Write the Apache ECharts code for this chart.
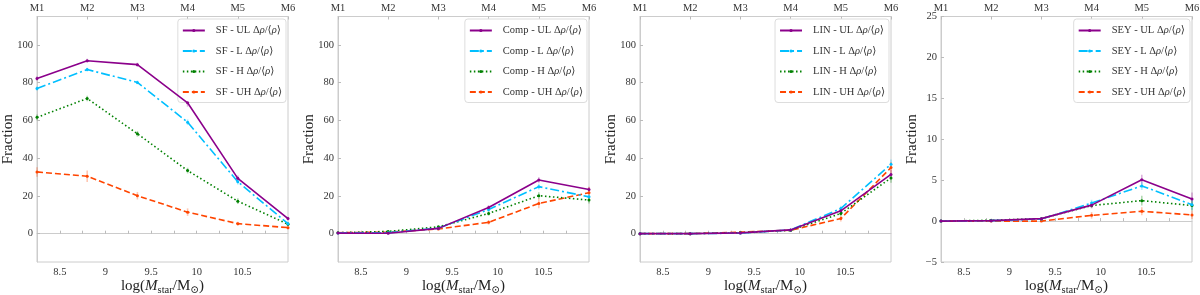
<!DOCTYPE html>
<html><head><meta charset="utf-8">
<script src="https://cdn.jsdelivr.net/npm/echarts@6/dist/echarts.min.js"></script>
<style>html,body{margin:0;padding:0;background:#fff}#c{width:1200px;height:295px}</style>
</head><body><div id="c"></div>
<script>
// ---- data ----
const massBins = [8.25, 8.8, 9.35, 9.9, 10.45, 11.0];
const binLabels = ['M1', 'M2', 'M3', 'M4', 'M5', 'M6'];
const densityLevels = ['UL', 'L', 'H', 'UH'];
const panelNames = ['SF', 'Comp', 'LIN', 'SEY'];
const xTickLabels = [8.5, 9, 9.5, 10, 10.5];

const sfUL = [82.2, 91.6, 89.5, 69.3, 29.3, 8.0];
const sfL  = [76.9, 86.9, 80.1, 59.0, 27.5, 5.3];
const sfH  = [61.6, 71.6, 52.9, 33.4, 17.2, 5.0];
const sfUH = [32.7, 30.4, 20.1, 11.4, 5.3, 3.2];
const sfULErr = [1.2, 1.0, 1.0, 2.0, 1.5, 1.0];
const sfLErr  = [1.2, 1.0, 1.0, 1.5, 1.5, 1.0];
const sfHErr  = [1.5, 1.5, 1.5, 1.5, 1.5, 1.0];
const sfUHErr = [2.5, 3.0, 2.0, 2.0, 1.0, 0.8];

const compUL = [0.3, 0.2, 2.8, 13.9, 28.4, 23.4];
const compL  = [0.4, 0.5, 2.9, 12.8, 24.9, 19.5];
const compH  = [0.5, 1.2, 3.6, 10.7, 20.1, 17.8];
const compUH = [0.5, 0.8, 2.5, 6.0, 16.0, 21.7];
const compULErr = [0.3, 0.5, 0.5, 1.2, 1.5, 1.5];
const compLErr  = [0.3, 0.5, 0.5, 1.2, 1.5, 1.5];
const compHErr  = [0.3, 0.5, 0.6, 1.2, 1.8, 1.8];
const compUHErr = [0.3, 0.5, 0.6, 1.2, 2.5, 3.0];

const linUL = [0.0, 0.0, 0.4, 2.0, 12.1, 31.4];
const linL  = [0.0, 0.0, 0.3, 2.0, 13.3, 36.8];
const linH  = [0.0, 0.0, 0.5, 1.8, 10.7, 29.5];
const linUH = [0.0, 0.0, 0.8, 1.8, 8.0, 35.0];
const linULErr = [0.1, 0.1, 0.3, 0.5, 1.5, 2.5];
const linLErr  = [0.1, 0.1, 0.3, 0.5, 1.5, 2.5];
const linHErr  = [0.1, 0.1, 0.3, 0.5, 1.5, 2.5];
const linUHErr = [0.1, 0.1, 0.3, 0.5, 1.5, 3.0];

const seyUL = [0.0, 0.05, 0.3, 1.95, 5.05, 2.7];
const seyL  = [0.0, 0.05, 0.25, 2.2, 4.3, 2.0];
const seyH  = [0.0, 0.1, 0.3, 1.9, 2.5, 1.9];
const seyUH = [0.0, 0.0, 0.0, 0.7, 1.2, 0.75];
const seyULErr = [0.05, 0.1, 0.15, 0.4, 0.6, 0.8];
const seyLErr  = [0.05, 0.1, 0.15, 0.4, 0.5, 0.6];
const seyHErr  = [0.05, 0.1, 0.15, 0.3, 0.6, 0.6];
const seyUHErr = [0.05, 0.05, 0.1, 0.4, 0.5, 0.5];

const panelValues = [[sfUL, sfL, sfH, sfUH], [compUL, compL, compH, compUH], [linUL, linL, linH, linUH], [seyUL, seyL, seyH, seyUH]];
const panelErrors = [[sfULErr, sfLErr, sfHErr, sfUHErr], [compULErr, compLErr, compHErr, compUHErr], [linULErr, linLErr, linHErr, linUHErr], [seyULErr, seyLErr, seyHErr, seyUHErr]];

// ---- styles ----
const FONT = "'Liberation Serif', 'DejaVu Serif', serif";
const colors = ['#8b008b', '#00bfff', '#008000', '#ff4500'];
const dashes = ['solid', [9, 3, 2, 3], [1.5, 2.5], [6, 3]];
const gridLefts = [37, 338, 640, 941];
const gridW = 251, gridTop = 16.5, gridH = 245.5;
const frameColor = '#cccccc';

const grids = [], xAxes = [], yAxes = [], series = [], legends = [];
panelNames.forEach((pn, p) => {
  grids.push({left: gridLefts[p], top: gridTop, width: gridW, height: gridH, show: true, borderColor: frameColor, borderWidth: 1, containLabel: false, outerBoundsMode: 'none'});
  const axisLine = {show: true, lineStyle: {color: frameColor, width: 1}};
  const tick = {show: true, inside: true, length: 3, lineStyle: {color: '#bbbbbb'}};
  xAxes.push({
    type: 'value', gridIndex: p, position: 'bottom', min: 8.25, max: 11.0,
    axisLine, axisTick: Object.assign({customValues: [8.5, 8.75, 9, 9.25, 9.5, 9.75, 10, 10.25, 10.5, 10.75]}, tick),
    splitLine: {show: false},
    axisLabel: {customValues: xTickLabels, formatter: v => String(v), fontFamily: FONT, fontSize: 10.5, color: '#333', margin: 5},
    name: '{n|log(}{i|M}{s|star}{n|/M}{s|⊙}{n|)}', nameLocation: 'middle', nameGap: 14, nameMoveOverlap: false,
    nameTextStyle: {fontFamily: FONT, color: '#222', rich: {
      n: {fontFamily: FONT, fontSize: 15, color: '#222', lineHeight: 20, verticalAlign: 'middle'},
      i: {fontFamily: FONT, fontSize: 15, fontStyle: 'italic', color: '#222', lineHeight: 20, verticalAlign: 'middle'},
      s: {fontFamily: FONT, fontSize: 10.5, color: '#222', verticalAlign: 'bottom', lineHeight: 12}
    }}
  });
  xAxes.push({
    type: 'value', gridIndex: p, position: 'top', min: 8.25, max: 11.0, interval: 0.55,
    axisLine, axisTick: tick, splitLine: {show: false},
    axisLabel: {fontFamily: FONT, fontSize: 10.5, color: '#333', margin: 3,
      formatter: v => { const i = massBins.findIndex(m => Math.abs(m - v) < 1e-6); return i >= 0 ? binLabels[i] : ''; }}
  });
  const isSey = p === 3;
  yAxes.push({
    type: 'value', gridIndex: p,
    min: isSey ? -5 : -15, max: isSey ? 25 : 115,
    interval: isSey ? 5 : undefined,
    axisLine, splitLine: {show: false},
    axisTick: isSey ? tick : Object.assign({customValues: [0, 20, 40, 60, 80, 100]}, tick),
    axisLabel: Object.assign({fontFamily: FONT, fontSize: 10.5, color: '#333', margin: 4,
      formatter: v => (v < 0 ? '\u2212' + Math.abs(v) : String(v))},
      isSey ? {} : {customValues: [0, 20, 40, 60, 80, 100]}),
    name: 'Fraction', nameLocation: 'middle', nameGap: 21, nameMoveOverlap: false,
    nameTextStyle: {fontFamily: FONT, fontSize: 15, color: '#222'}
  });
  const names = [];
  densityLevels.forEach((lv, k) => {
    const nm = pn + ' - ' + lv;
    names.push(nm);
    const vals = panelValues[p][k], errs = panelErrors[p][k];
    series.push({
      type: 'custom', name: nm + ' err', xAxisIndex: 2 * p, yAxisIndex: p, z: 1,
      data: massBins.map((x, i) => [x, vals[i], errs[i]]),
      renderItem: (params, api) => {
        const x = api.value(0), y = api.value(1), e = api.value(2);
        const a = api.coord([x, y - e]), b = api.coord([x, y + e]);
        return {type: 'line', shape: {x1: a[0], y1: a[1], x2: b[0], y2: b[1]}, style: {stroke: colors[k], lineWidth: 1.6, opacity: 0.3}};
      },
      silent: true
    });
    series.push({
      type: 'line', name: nm, xAxisIndex: 2 * p, yAxisIndex: p, z: 3 + (3 - k),
      data: massBins.map((x, i) => [x, vals[i]]),
      symbol: 'circle', symbolSize: 3, showSymbol: true,
      itemStyle: {color: colors[k]},
      lineStyle: {color: colors[k], width: 1.6, type: dashes[k]},
      emphasis: {disabled: true}, animation: false
    });
  });
  legends.push({
    data: names, orient: 'vertical', align: 'left',
    right: 1200 - (gridLefts[p] + gridW - 2), top: 19,
    itemWidth: 22, itemHeight: 4, itemGap: 9.5,
    backgroundColor: '#fff', borderColor: '#dddddd', borderWidth: 1, borderRadius: 3,
    padding: [6, 4, 5, 4], selectedMode: false,
    formatter: nm => '{n|' + nm + ' \u0394}{i|\u03c1}{n|/\u27e8}{i|\u03c1}{n|\u27e9}',
    textStyle: {fontFamily: FONT, fontSize: 10.5, color: '#333', padding: [0, 0, 0, 6], rich: {
      n: {fontFamily: FONT, fontSize: 10.5, color: '#333', lineHeight: 12},
      i: {fontFamily: FONT, fontSize: 10.5, fontStyle: 'italic', color: '#333', lineHeight: 12}
    }}
  });
});

const chart = echarts.init(document.getElementById('c'), null, {renderer: 'canvas'});
chart.setOption({
  animation: false, backgroundColor: '#fff',
  grid: grids, xAxis: xAxes, yAxis: yAxes, legend: legends, series
});
</script></body></html>
